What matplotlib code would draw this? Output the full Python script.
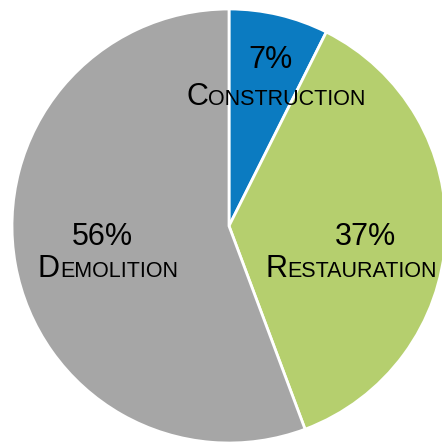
import matplotlib
matplotlib.use('agg')
import matplotlib.pyplot as plt

categories = ['Construction', 'Restauration', 'Demolition']
shares = [7.4, 36.9, 55.7]
colors = ['#0B7BC1', '#B5CF6E', '#A6A6A6']
explode = [0.018, 0.02, 0.0]

plt.rcParams['font.family'] = ['Liberation Sans', 'DejaVu Sans']

W, H = 442, 446
fig = plt.figure(figsize=(W / 100, H / 100), dpi=100)
ax = fig.add_axes([0, 0, 1, 1])

ax.pie(shares, colors=colors, explode=explode, startangle=90, counterclock=False,
       center=(229, 220), radius=217, frame=True,
       wedgeprops={'edgecolor': 'white', 'linewidth': 2})
ax.set_xlim(0, W)
ax.set_ylim(0, H)
ax.set_aspect('equal')
ax.axis('off')

# (percent centre x, percent baseline y, label centre x, label baseline y), pixels from top
label_pos = {'Construction': (270, 68, 276, 105),
             'Restauration': (365, 245, 351, 277),
             'Demolition': (102, 245, 108, 277)}

BIG, SMALL = 22, 15.5
renderer = fig.canvas.get_renderer()

for name, val in zip(categories, shares):
    px, py, lx, ly = label_pos[name]
    ax.text(px, H - py, f'{round(val)}%', size=BIG, ha='center', va='baseline')
    first = ax.text(0, H - ly, name[0].upper(), size=BIG, ha='left', va='baseline')
    rest = ax.text(0, H - ly, name[1:].upper(), size=SMALL, ha='left', va='baseline')
    w1 = first.get_window_extent(renderer).width
    w2 = rest.get_window_extent(renderer).width
    x0 = lx - (w1 + w2) / 2
    first.set_x(x0)
    rest.set_x(x0 + w1)

fig.savefig('out.png', dpi=100)
